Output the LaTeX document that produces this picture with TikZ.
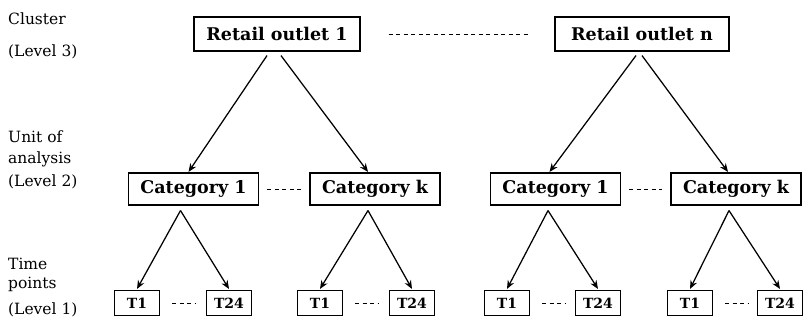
\documentclass[tikz,border=0pt]{standalone}
\usepackage{fontspec}
\setmainfont{DejaVu Serif}
\usetikzlibrary{arrows.meta}
\begin{document}
\begin{tikzpicture}[x=1pt,y=-1pt,
 box/.style={draw, line width=1.1pt, inner sep=0pt, align=center},
 big/.style={box, minimum height=34pt, font=\fontsize{17.5}{20}\selectfont\bfseries},
 cat/.style={box, minimum height=32pt, minimum width=130pt, font=\fontsize{17.5}{20}\selectfont\bfseries},
 tb/.style={box, minimum height=25pt, minimum width=45pt, font=\fontsize{14}{16}\selectfont\bfseries},
 lab/.style={anchor=base west, inner sep=0pt, font=\fontsize{15.5}{17}\selectfont},
 arr/.style={-{Stealth[length=8.5pt,width=7pt]}, line width=1.25pt},
 dots/.style={dash pattern=on 4pt off 3.5pt, line width=0.9pt}]
\useasboundingbox (0,0) rectangle (803,321);

% left labels
\node[lab] (l3a) at (8,25) {Cluster};
\node[lab] (l3b) at (8,57) {(Level 3)};
\node[lab] (l2a) at (8,142) {Unit of};
\node[lab] (l2b) at (8,163) {analysis};
\node[lab] (l2c) at (8,186) {(Level 2)};
\node[lab] (l1a) at (8,269) {Time};
\node[lab] (l1b) at (8,288) {points};
\node[lab] (l1c) at (8,314) {(Level 1)};

% level 3
\node[big, minimum width=166pt] (r1) at (277,34) {Retail outlet 1};
\node[big, minimum width=174pt] (rn) at (642,34) {Retail outlet n};

% level 2
\node[cat] (c1) at (193.5,189) {Category 1};
\node[cat] (ck) at (375,189) {Category k};
\node[cat] (d1) at (555.5,189) {Category 1};
\node[cat] (dk) at (736,189) {Category k};

% level 1
\node[tb] (ta1) at (137,303) {T1};
\node[tb] (ta2) at (229,303) {T24};
\node[tb] (tb1) at (320,303) {T1};
\node[tb] (tb2) at (412,303) {T24};
\node[tb] (tc1) at (507,303) {T1};
\node[tb] (tc2) at (598,303) {T24};
\node[tb] (td1) at (690,303) {T1};
\node[tb] (td2) at (780,303) {T24};

% dashed links
\draw[dots] ([xshift=28pt]r1.east) -- ([xshift=-25pt]rn.west);
\draw[dots] ([xshift=8pt]c1.east) -- ([xshift=-8pt]ck.west);
\draw[dots] ([xshift=8pt]d1.east) -- ([xshift=-8pt]dk.west);
\draw[dots] ([xshift=12pt]ta1.east) -- ([xshift=-10pt]ta2.west);
\draw[dots] ([xshift=12pt]tb1.east) -- ([xshift=-10pt]tb2.west);
\draw[dots] ([xshift=12pt]tc1.east) -- ([xshift=-10pt]tc2.west);
\draw[dots] ([xshift=12pt]td1.east) -- ([xshift=-8pt]td2.west);

% level 3 -> level 2
\draw[arr] ([xshift=-10pt,yshift=-4pt]r1.south) -- ([xshift=-5pt,yshift=0.5pt]c1.north);
\draw[arr] ([xshift=4pt,yshift=-4pt]r1.south) -- ([xshift=-7pt,yshift=0.5pt]ck.north);
\draw[arr] ([xshift=-6pt,yshift=-4pt]rn.south) -- ([xshift=-6pt,yshift=0.5pt]d1.north);
\draw[arr] ([xshift=0pt,yshift=-4pt]rn.south) -- ([xshift=-8pt,yshift=0.5pt]dk.north);

% level 2 -> level 1
\draw[arr] ([xshift=-13pt,yshift=-5pt]c1.south) -- ([yshift=1pt]ta1.north);
\draw[arr] ([xshift=-13pt,yshift=-5pt]c1.south) -- ([yshift=1pt]ta2.north);
\draw[arr] ([xshift=-7pt,yshift=-5pt]ck.south) -- ([yshift=1pt]tb1.north);
\draw[arr] ([xshift=-7pt,yshift=-5pt]ck.south) -- ([yshift=1pt]tb2.north);
\draw[arr] ([xshift=-7.5pt,yshift=-5pt]d1.south) -- ([yshift=1pt]tc1.north);
\draw[arr] ([xshift=-7.5pt,yshift=-5pt]d1.south) -- ([yshift=1pt]tc2.north);
\draw[arr] ([xshift=-7pt,yshift=-5pt]dk.south) -- ([yshift=1pt]td1.north);
\draw[arr] ([xshift=-7pt,yshift=-5pt]dk.south) -- ([yshift=1pt]td2.north);
\end{tikzpicture}
\end{document}
